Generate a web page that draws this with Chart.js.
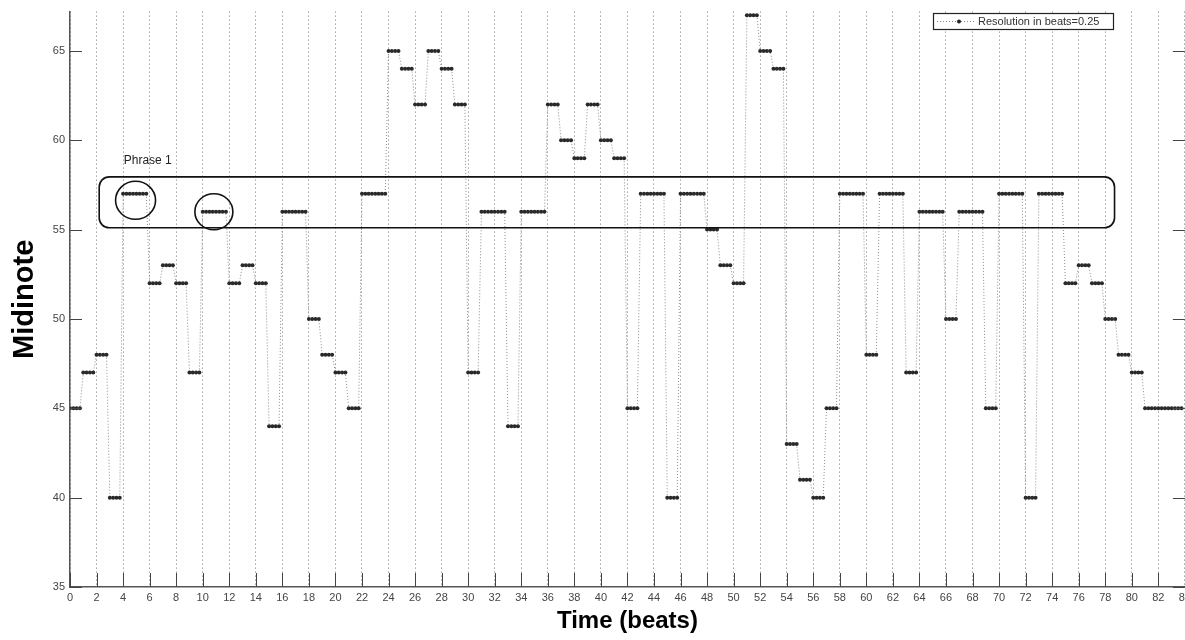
<!DOCTYPE html>
<html>
<head>
<meta charset="utf-8">
<script src="https://cdn.jsdelivr.net/npm/chart.js@4.4.1/dist/chart.umd.min.js"></script>
<style>
html, body { margin: 0; padding: 0; background: #fff; overflow: hidden; }
canvas { display: block; }
</style>
</head>
<body>
<canvas id="canvas" width="1195" height="640"></canvas>
<script>
// midi note of each event and its length in beats
const notes = [45, 47, 48, 40, 57, 52, 53, 52, 47, 56, 52, 53, 52, 44, 56, 50, 48, 47, 45, 57,
    65, 64, 62, 65, 64, 62, 47, 56, 44, 56, 62, 60, 59, 62, 60, 59, 45, 57, 40, 57,
    55, 53, 52, 67, 65, 64, 43, 41, 40, 45, 57, 48, 57, 47, 56, 50, 56, 45, 57, 40,
    57, 52, 53, 52, 50, 48, 47, 45];
const durations = [1, 1, 1, 1, 2, 1, 1, 1, 1, 2, 1, 1, 1, 1, 2, 1, 1, 1, 1, 2,
    1, 1, 1, 1, 1, 1, 1, 2, 1, 2, 1, 1, 1, 1, 1, 1, 1, 2, 1, 2,
    1, 1, 1, 1, 1, 1, 1, 1, 1, 1, 2, 1, 2, 1, 2, 1, 2, 1, 2, 1,
    2, 1, 1, 1, 1, 1, 1, 3];
const resolution = 0.25;
const seriesLabel = 'Resolution in beats=0.25';

// phrase annotation (data coords)
const phraseBox = { x1: 2.2, x2: 78.7, y1: 55.1, y2: 57.95 };
const phraseCircles = [{ x: 4.94, y: 56.64 }, { x: 10.84, y: 56.0 }];
const phraseLabel = { text: 'Phrase 1', x: 4.05, y: 58.88 };

const points = [];
let onset = 0;
notes.forEach((note, i) => {
    for (let t = 0; t < durations[i]; t += resolution) {
        points.push({ x: onset + t, y: note });
    }
    onset += durations[i];
});

const tickFont = { family: 'Liberation Sans, Arial, sans-serif', size: 11 };

const overlay = {
    id: 'overlay',
    afterDatasetsDraw(chart) {
        const ctx = chart.ctx;
        const xs = chart.scales.x;
        const ys = chart.scales.y;
        const area = chart.chartArea;
        const line = (x1, y1, x2, y2) => {
            ctx.beginPath();
            ctx.moveTo(x1, y1);
            ctx.lineTo(x2, y2);
            ctx.stroke();
        };
        ctx.save();

        // ticks pointing inward like matlab
        ctx.strokeStyle = '#444';
        ctx.lineWidth = 1;
        xs.ticks.forEach(t => {
            const px = Math.round(xs.getPixelForValue(t.value)) + 0.5;
            line(px, area.bottom, px, area.bottom - 14);
        });
        ys.ticks.forEach(t => {
            const py = Math.round(ys.getPixelForValue(t.value)) + 0.5;
            line(area.left, py, area.left + 12, py);
            line(area.right - 12, py, area.right, py);
        });

        // phrase box
        const bx1 = xs.getPixelForValue(phraseBox.x1);
        const bx2 = xs.getPixelForValue(phraseBox.x2);
        const by1 = ys.getPixelForValue(phraseBox.y2);
        const by2 = ys.getPixelForValue(phraseBox.y1);
        const r = 10;
        ctx.strokeStyle = '#111';
        ctx.lineWidth = 1.6;
        ctx.beginPath();
        ctx.moveTo(bx1 + r, by1);
        ctx.arcTo(bx2, by1, bx2, by2, r);
        ctx.arcTo(bx2, by2, bx1, by2, r);
        ctx.arcTo(bx1, by2, bx1, by1, r);
        ctx.arcTo(bx1, by1, bx2, by1, r);
        ctx.closePath();
        ctx.stroke();

        ctx.beginPath();
        ctx.ellipse(xs.getPixelForValue(phraseCircles[0].x), ys.getPixelForValue(phraseCircles[0].y), 20, 19, 0, 0, Math.PI * 2);
        ctx.stroke();
        ctx.beginPath();
        ctx.ellipse(xs.getPixelForValue(phraseCircles[1].x), ys.getPixelForValue(phraseCircles[1].y), 19, 18, 0, 0, Math.PI * 2);
        ctx.stroke();

        ctx.fillStyle = '#222';
        ctx.font = '12px Liberation Sans, Arial, sans-serif';
        ctx.textBaseline = 'middle';
        ctx.textAlign = 'left';
        ctx.fillText(phraseLabel.text, xs.getPixelForValue(phraseLabel.x), ys.getPixelForValue(phraseLabel.y));

        // legend
        ctx.fillStyle = '#fff';
        ctx.fillRect(933.5, 13.5, 180, 16);
        ctx.strokeStyle = '#222';
        ctx.lineWidth = 1.2;
        ctx.strokeRect(933.5, 13.5, 180, 16);
        ctx.strokeStyle = '#888';
        ctx.lineWidth = 1;
        ctx.setLineDash([1, 2]);
        line(937, 21.5, 976, 21.5);
        ctx.setLineDash([]);
        ctx.fillStyle = '#222';
        ctx.beginPath();
        ctx.arc(959, 21.5, 2, 0, Math.PI * 2);
        ctx.fill();
        ctx.font = '11px Liberation Sans, Arial, sans-serif';
        ctx.fillStyle = '#333';
        ctx.fillText(seriesLabel, 978, 21.5);

        ctx.restore();
    }
};

const canvas = document.getElementById('canvas');
const chart = new Chart(canvas, {
    type: 'scatter',
    data: {
        datasets: [
            {
                label: seriesLabel,
                data: points,
                showLine: true,
                borderColor: '#8c8c8c',
                borderWidth: 1,
                borderDash: [1, 2],
                pointRadius: 2,
                pointHoverRadius: 2,
                pointBorderWidth: 0,
                pointBackgroundColor: '#2a2a2a'
            }
        ]
    },
    options: {
        responsive: false,
        animation: false,
        devicePixelRatio: 1,
        layout: { padding: { top: 11, right: 0, left: 0, bottom: 0 } },
        plugins: {
            legend: { display: false },
            tooltip: { enabled: false }
        },
        scales: {
            x: {
                type: 'linear',
                min: 0,
                max: 84,
                afterFit: s => { s.height = 53; },
                ticks: { stepSize: 2, autoSkip: false, maxRotation: 0, padding: 4, color: '#444', font: tickFont },
                grid: { color: '#777', lineWidth: 1, drawTicks: false },
                border: { display: true, color: '#555', width: 1.5, dash: [1, 3] },
                title: {
                    display: true,
                    text: 'Time (beats)',
                    color: '#000',
                    font: { family: 'Liberation Sans, Arial, sans-serif', size: 24, weight: 'bold' },
                    padding: { top: 0, bottom: 4 }
                }
            },
            y: {
                min: 35,
                max: 67.2,
                afterFit: s => { s.width = 70; },
                ticks: { stepSize: 5, includeBounds: false, padding: 5, color: '#444', font: tickFont },
                grid: { drawOnChartArea: false, drawTicks: false },
                border: { display: true, color: '#555', width: 1.5 },
                title: {
                    display: true,
                    text: 'Midinote',
                    color: '#000',
                    font: { family: 'Liberation Sans, Arial, sans-serif', size: 29, weight: 'bold' },
                    padding: { top: 8, bottom: 0 }
                }
            }
        }
    },
    plugins: [overlay]
});
</script>
</body>
</html>
